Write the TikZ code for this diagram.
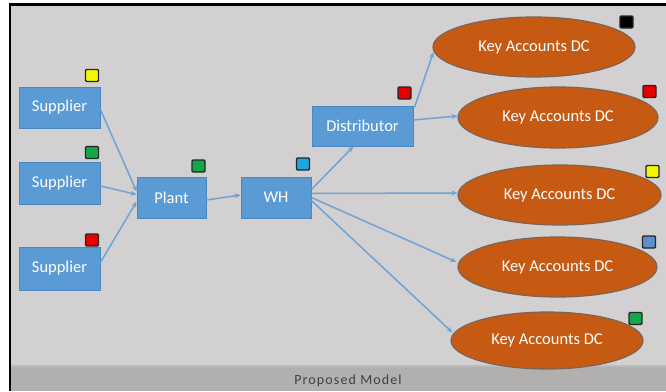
\documentclass[tikz,border=0pt]{standalone}
\usepackage{fontspec}
\setmainfont{Carlito}
\usetikzlibrary{arrows.meta,calc,shapes.geometric}
\definecolor{bg}{HTML}{D2D0D0}
\definecolor{band}{HTML}{B2AFAF}
\definecolor{boxblue}{HTML}{5B9BD5}
\definecolor{boxedge}{HTML}{4A86C0}
\definecolor{lineblue}{HTML}{6FA3D6}
\definecolor{kaorange}{HTML}{C65A13}
\definecolor{kaedge}{HTML}{7A6458}
\definecolor{sqyellow}{HTML}{F5F500}
\definecolor{sqgreen}{HTML}{12A84A}
\definecolor{sqred}{HTML}{E60000}
\definecolor{sqblue}{HTML}{1FA6E0}
\definecolor{sqgrey}{HTML}{5F8FCB}
\tikzset{
  bluebox/.style={rectangle, fill=boxblue, draw=boxedge, line width=0.8pt, text=white, font=\fontsize{16.5}{18}\selectfont, inner sep=0pt},
  kadc/.style={ellipse, fill=kaorange, draw=kaedge, line width=1.2pt, text=white, font=\fontsize{16.5}{18}\selectfont, inner sep=0pt},
  flag/.style={rectangle, draw=black!85, line width=1.4pt, rounded corners=1.2pt, minimum width=13pt, minimum height=12pt, inner sep=0pt},
  flow/.style={draw=lineblue, line width=1.5pt, -{Stealth[length=6pt,width=5pt]}}
}
\begin{document}
\begin{tikzpicture}[x=1pt,y=-1pt]
\useasboundingbox (0,0) rectangle (666,391);
\fill[white] (0,0) rectangle (666,391);
\fill[bg] (11,5) rectangle (666,366);
\fill[band] (11,366) rectangle (666,391);
\fill[band!85!white] (11,365) rectangle (666,367);
\fill[black] (8.5,3) rectangle (11,391);
\fill[black] (8.5,3) rectangle (666,5.5);

% nodes
\node[bluebox, minimum width=81pt, minimum height=41pt] (S1) at (59.5,107.5) {Supplier};
\node[bluebox, minimum width=81pt, minimum height=42pt] (S2) at (59.5,183) {Supplier};
\node[bluebox, minimum width=81pt, minimum height=43pt] (S3) at (59.5,268.5) {Supplier};
\node[bluebox, minimum width=69pt, minimum height=41pt] (P) at (171.5,197.5) {Plant};
\node[bluebox, minimum width=70pt, minimum height=41pt] (W) at (276,197.5) {WH};
\node[bluebox, minimum width=101pt, minimum height=40pt] (D) at (362.5,126) {Distributor};

% arrows
\draw[flow] ($(S1.east)+(0,2)$) -- ($(P.west)+(0,-6)$);
\draw[flow] ($(S2.east)+(0,3)$) -- ($(P.west)+(0,-3)$);
\draw[flow] ($(S3.east)+(0,-6)$) -- ($(P.west)+(0,4)$);
\draw[flow] ($(P.east)+(0,2.5)$) -- ($(W.west)+(0,-2.5)$);
\draw[flow] ($(W.east)+(0,-8)$) -- ($(D.south)+(-9,0)$);

\node[kadc, minimum width=202pt, minimum height=60pt] (E1) at (534,47) {Key Accounts DC};
\node[kadc, minimum width=200pt, minimum height=61pt] (E2) at (558,117.5) {Key Accounts DC};
\node[kadc, minimum width=203pt, minimum height=60pt] (E3) at (559.5,195) {Key Accounts DC};
\node[kadc, minimum width=199pt, minimum height=60pt] (E4) at (557.5,267) {Key Accounts DC};
\node[kadc, minimum width=192pt, minimum height=57pt] (E5) at (547,340.5) {Key Accounts DC};

\draw[flow] ($(D.north east)+(1,2)$) -- ($(E1.west)+(1,5)$);
\draw[flow] ($(D.east)+(0,-6)$) -- ($(E2.west)+(0,-1.5)$);
\draw[flow] ($(W.east)+(0,-4)$) -- ($(E3.west)+(0,-2)$);
\draw[flow] ($(W.east)+(0,0)$) -- ($(E4.west)+(-1,-5)$);
\draw[flow] ($(W.east)+(0,3)$) -- ($(E5.west)+(2,-8)$);

% status flags
\node[flag, fill=sqyellow] (f1) at (92,75.5) {};
\node[flag, fill=sqgreen] (f2) at (92,152.5) {};
\node[flag, fill=sqred] (f3) at (92,240) {};
\node[flag, fill=sqgreen] (f4) at (198.5,166) {};
\node[flag, fill=sqblue] (f5) at (303,164) {};
\node[flag, fill=sqred] (f6) at (404.5,93) {};
\node[flag, fill=black] (f7) at (626.5,22) {};
\node[flag, fill=sqred] (f8) at (649.5,91.5) {};
\node[flag, fill=sqyellow] (f9) at (652.5,171.5) {};
\node[flag, fill=sqgrey] (f10) at (649,242) {};
\node[flag, fill=sqgreen] (f11) at (635.5,318.5) {};

\node[text=black!75, font=\addfontfeatures{LetterSpace=8}\fontsize{14}{16}\selectfont] (cap) at (348,381) {Proposed Model};
\end{tikzpicture}
\end{document}
